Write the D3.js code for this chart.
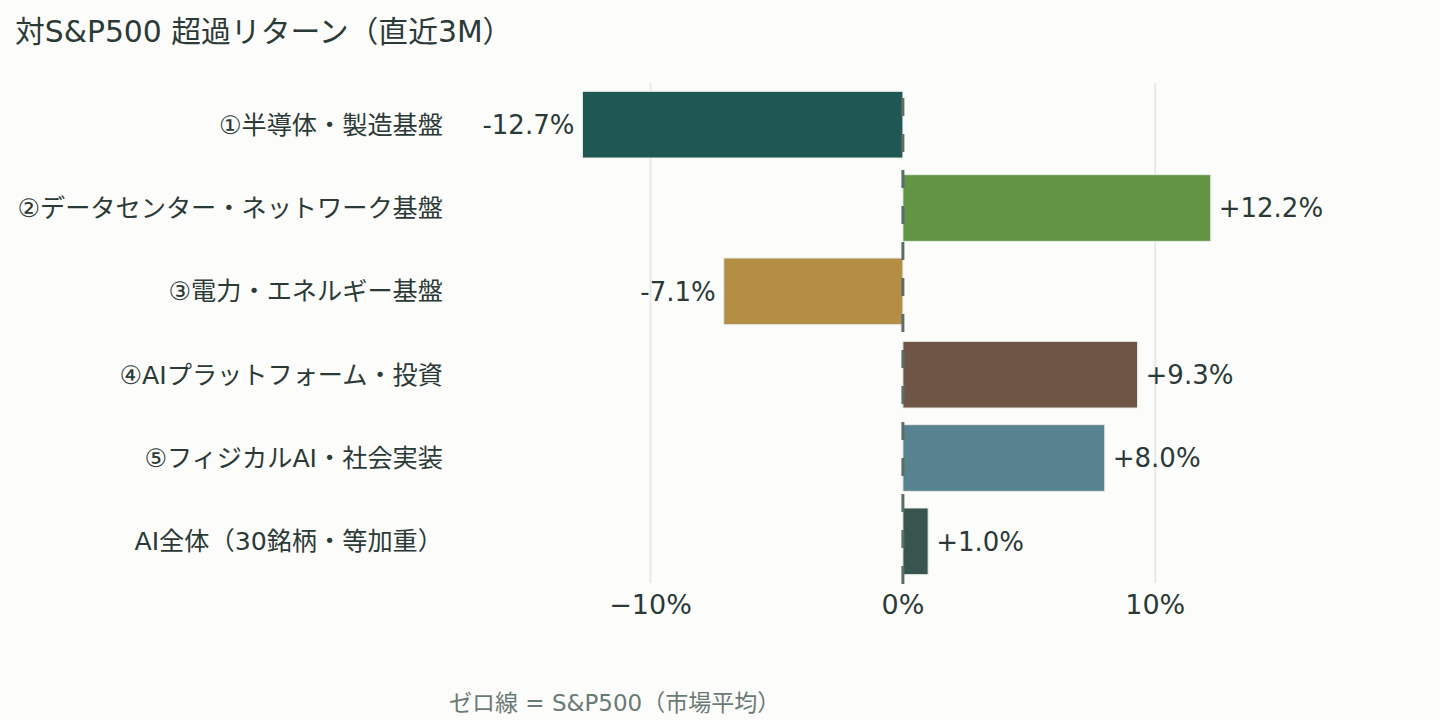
<!DOCTYPE html>
<html>
<head>
    <meta charset="utf-8">
    <style>
        body {
            margin: 0;
            background-color: #fcfcfa;
        }
        svg {
            display: block;
            font-family: 'DejaVu Sans', 'Noto Sans CJK JP', sans-serif;
        }
    </style>
</head>
<body>
    <svg width="1440" height="720"></svg>

<script src="https://d3js.org/d3.v7.min.js"></script>
<script>
    // categories, top to bottom
    let categories = [
        "①半導体・製造基盤",
        "②データセンター・ネットワーク基盤",
        "③電力・エネルギー基盤",
        "④AIプラットフォーム・投資",
        "⑤フィジカルAI・社会実装",
        "AI全体（30銘柄・等加重）"
    ]
    // excess return vs S&P500, %
    let excess = [-12.7, 12.2, -7.1, 9.3, 8.0, 1.0]
    let barColors = ["#1f5752", "#639443", "#b38e44", "#6f5546", "#57828f", "#37544f"]
    let tickValues = [-10, 0, 10]
    let tickLabels = ["−10%", "0%", "10%"]

    let width = 1440
    let height = 720
    let plotLeft = 455, plotRight = 1400, plotTop = 83, plotBottom = 583

    let svg = d3.select("svg")

    svg.append("rect")
        .attr("width", width)
        .attr("height", height)
        .style("fill", "#fcfcfa")

    let x = d3.scaleLinear()
        .domain([-17.75, 19.7])
        .range([plotLeft, plotRight])

    let y = d3.scaleBand()
        .domain(categories)
        .range([plotTop, plotBottom])
        .paddingInner(0.2)
        .paddingOuter(0.1)

    // title
    svg.append("text")
        .attr("x", 15)
        .attr("y", 42)
        .style("font-size", "29.8px")
        .style("fill", "#2b3a37")
        .text("対S&P500 超過リターン（直近3M）")

    // gridlines
    svg.selectAll(".grid")
        .data(tickValues.filter(d => d != 0))
        .join("line")
        .attr("x1", d => x(d))
        .attr("x2", d => x(d))
        .attr("y1", plotTop)
        .attr("y2", plotBottom)
        .style("stroke", "#e9e9e7")
        .style("stroke-width", 2)

    // bars
    svg.selectAll(".bar")
        .data(excess)
        .join("rect")
        .attr("class", "bar")
        .attr("x", d => x(Math.min(0, d)))
        .attr("width", d => Math.abs(x(d) - x(0)))
        .attr("y", (d, i) => y(categories[i]))
        .attr("height", y.bandwidth())
        .style("fill", (d, i) => barColors[i])
        .style("stroke", "#e6ece9")
        .style("stroke-width", 1)

    // zero line = S&P500, drawn bottom-up so the dashes line up like the original
    svg.append("line")
        .attr("x1", x(0))
        .attr("x2", x(0))
        .attr("y1", plotBottom + 1)
        .attr("y2", plotTop - 3)
        .style("stroke", "#5d6d69")
        .style("stroke-width", 3)
        .style("stroke-dasharray", "18,18")

    // value labels
    svg.selectAll(".val")
        .data(excess)
        .join("text")
        .attr("x", d => d < 0 ? x(d) - 8 : x(d) + 8)
        .attr("y", (d, i) => y(categories[i]) + y.bandwidth() / 2)
        .attr("dy", "0.36em")
        .attr("text-anchor", d => d < 0 ? "end" : "start")
        .style("font-size", "26px")
        .style("fill", "#2b3a37")
        .text(d => (d > 0 ? "+" : "") + d.toFixed(1) + "%")

    // category labels
    svg.selectAll(".cat")
        .data(categories)
        .join("text")
        .attr("x", 443)
        .attr("y", d => y(d) + y.bandwidth() / 2)
        .attr("dy", "0.36em")
        .attr("text-anchor", "end")
        .style("font-size", "25.2px")
        .style("fill", "#2b3a37")
        .text(d => d)

    // x ticks
    svg.selectAll(".tick")
        .data(tickValues)
        .join("text")
        .attr("x", d => x(d))
        .attr("y", 614)
        .attr("text-anchor", "middle")
        .style("font-size", "27px")
        .style("fill", "#2b3a37")
        .text((d, i) => tickLabels[i])

    // note
    svg.append("text")
        .attr("x", 449)
        .attr("y", 711)
        .style("font-size", "23px")
        .style("fill", "#6a7a76")
        .text("ゼロ線 = S&P500（市場平均）")
</script>
</body>
</html>
